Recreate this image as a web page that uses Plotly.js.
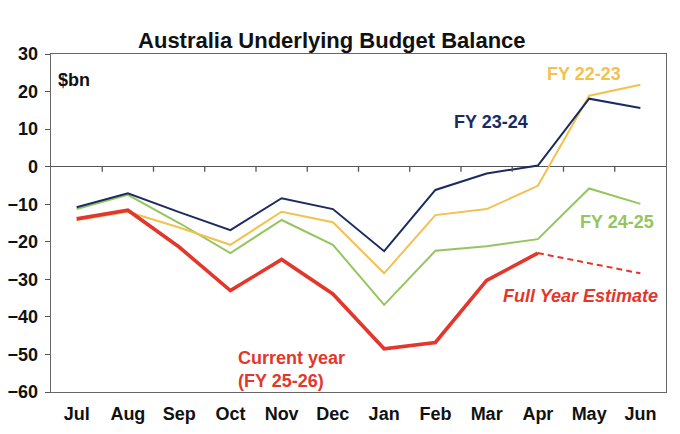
<!DOCTYPE html>
<html>
<head>
<meta charset="utf-8">
<script src="https://cdn.plot.ly/plotly-3.0.1.min.js"></script>
<style>
  body { margin: 0; background: #fff; }
  #budget-plot { width: 680px; height: 434px; }
</style>
</head>
<body>
<div id="budget-plot"></div>
<script>
// month labels for the financial year, Jul..Jun
var months = ['Jul', 'Aug', 'Sep', 'Oct', 'Nov', 'Dec', 'Jan', 'Feb', 'Mar', 'Apr', 'May', 'Jun'];

// cumulative underlying balance, $bn
var fy2223 = [-14.2, -12.0, -16.2, -20.8, -12.0, -14.8, -28.4, -12.9, -11.3, -5.1, 18.9, 21.8];
var fy2324 = [-10.8, -7.1, -12.1, -16.9, -8.4, -11.3, -22.5, -6.2, -1.8, 0.3, 18.1, 15.6];
var fy2425 = [-11.3, -7.5, -15.0, -23.0, -14.2, -20.8, -36.8, -22.4, -21.2, -19.3, -5.8, -9.9];
var fy2526 = [-13.9, -11.6, -21.4, -33.0, -24.7, -33.9, -48.5, -46.8, -30.3, -23.0];

// full year estimate runs from the latest actual to Jun
var estMonths = ['Apr', 'Jun'];
var estValues = [-23.0, -28.4];

var yTicks = [30, 20, 10, 0, -10, -20, -30, -40, -50, -60];

var navy = '#1c2b5f';
var gold = '#f3c14f';
var green = '#95c55d';
var red = '#e2372c';
var font = 'Liberation Sans, Arial, sans-serif';

function line(y, color, width, name, x, dash) {
  return {
    x: x || months.slice(0, y.length),
    y: y,
    type: 'scatter',
    mode: 'lines',
    name: name,
    line: {color: color, width: width, dash: dash || 'solid'},
    hoverinfo: 'skip'
  };
}

var data = [
  line(fy2425, green, 2, 'FY 24-25'),
  line(fy2223, gold, 2, 'FY 22-23'),
  line(fy2324, navy, 2, 'FY 23-24'),
  line(estValues, red, 2, 'Full Year Estimate', estMonths, '6px,4px'),
  line(fy2526, red, 3.6, 'FY 25-26')
];

// little tick marks between the months, hanging off the zero line (~5px)
// (paper x, since numeric x on a category axis is not accepted by shapes)
var zeroTicks = [];
for (var i = 1; i < months.length; i++) {
  zeroTicks.push({
    type: 'line', xref: 'paper', yref: 'y',
    x0: i / months.length, x1: i / months.length, y0: 0, y1: -1.35,
    line: {color: '#555', width: 1.3},
    layer: 'above'
  });
}

function label(text, x, y, color, extra) {
  var a = {
    text: text, x: x, y: y, xref: 'x', yref: 'y',
    showarrow: false,
    font: {family: font, size: 18, color: color, weight: 'bold'}
  };
  for (var k in extra) a[k] = extra[k];
  return a;
}

var layout = {
  width: 680,
  height: 434,
  margin: {l: 51, r: 14, t: 54, b: 42},
  paper_bgcolor: '#fff',
  plot_bgcolor: '#fff',
  showlegend: false,
  font: {family: font, size: 17, color: '#111'},
  title: {
    text: '<b>Australia Underlying Budget Balance</b>',
    font: {family: font, size: 22, color: '#111'},
    x: 0.488, xanchor: 'center',
    y: 0.908, yanchor: 'middle'
  },
  xaxis: {
    type: 'category',
    categoryarray: months,
    range: [-0.5, 11.5],
    showgrid: false,
    zeroline: false,
    ticks: '',
    showline: true,
    linecolor: '#666',
    linewidth: 1.3,
    mirror: true,
    tickfont: {family: font, size: 18, color: '#111', weight: 'bold'},
    ticklabelstandoff: 5
  },
  yaxis: {
    range: [-60, 30],
    tickmode: 'array',
    tickvals: yTicks,
    showgrid: false,
    zeroline: true,
    zerolinecolor: '#555',
    zerolinewidth: 1.3,
    ticks: 'outside',
    ticklen: 5,
    tickcolor: '#555',
    showline: true,
    linecolor: '#666',
    linewidth: 1.3,
    mirror: true,
    tickfont: {family: font, size: 18, color: '#111', weight: 'bold'},
    ticklabelstandoff: 3
  },
  shapes: zeroTicks,
  annotations: [
    {
      text: '$bn', xref: 'paper', yref: 'y', x: 0.008, y: 23.1,
      xanchor: 'left', showarrow: false,
      font: {family: font, size: 18, color: '#111', weight: 'bold'}
    },
    label('FY 22-23', 9.9, 24.7, gold),
    label('FY 23-24', 8.09, 11.9, navy),
    label('FY 24-25', 10.54, -14.7, green),
    label('<i>Full Year Estimate</i>', 9.84, -34.4, red),
    label('Current year<br>(FY 25-26)', 3.11, -54.1, red, {xanchor: 'left', align: 'left'})
  ]
};

document.addEventListener('DOMContentLoaded', function () {
  Plotly.newPlot('budget-plot', data, layout, {displayModeBar: false, staticPlot: true});
});
</script>
</body>
</html>
